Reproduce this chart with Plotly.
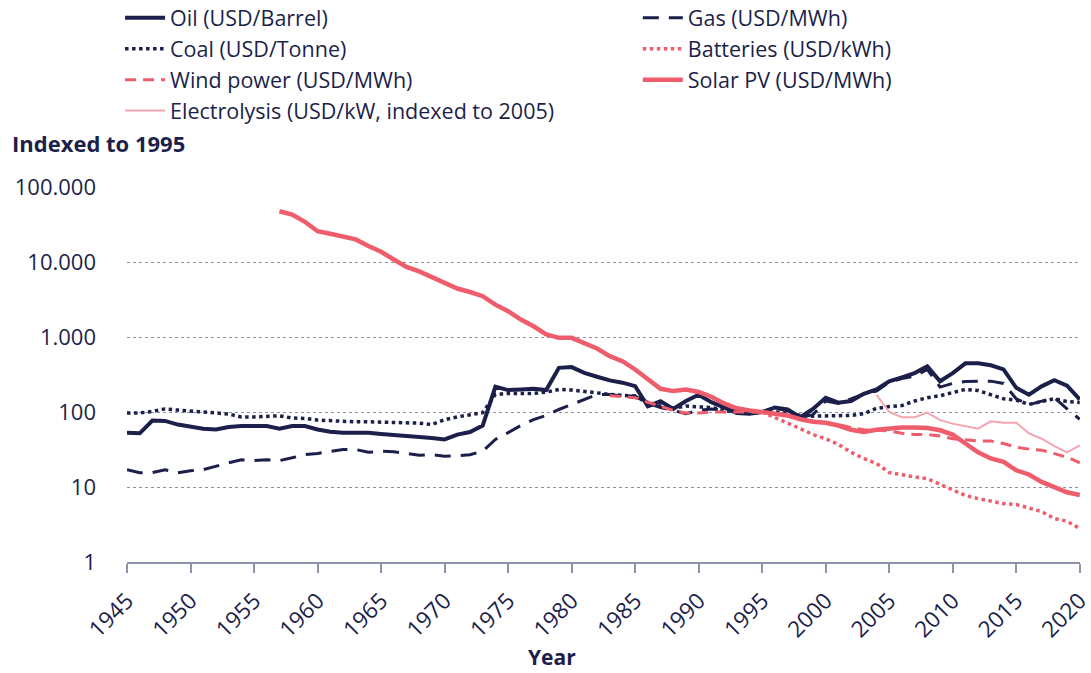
import plotly.graph_objects as go

NAVY = "#1c1f4a"
PINK = "#ef5d6c"
PINK_LIGHT = "#f5a5ad"
GRID = "#8d91aa"
FONT = "Open Sans, sans-serif"

# Data (indexed to 1995 = 100)
years_all = list(range(1945, 2021))

oil = [52.7, 52, 77, 76, 68, 63, 60, 58.5, 63, 65,
       65, 65, 60, 65, 65, 58.5, 54.5, 52.7, 52.7, 52.7,
       51, 49.6, 48.5, 47, 45, 43, 50, 54, 66, 217,
       196, 200, 204, 196, 388, 397, 333, 295, 264, 246,
       221, 119, 139, 110, 140, 170, 135, 115, 97, 95,
       100, 115, 108, 85, 110, 155, 133, 140, 175, 200,
       257, 290, 330, 407, 257, 330, 445, 445, 420, 370,
       210, 170, 220, 265, 225, 147]

coal = [97, 97, 102, 110, 106, 102, 99, 97, 94, 86,
        86, 88, 89, 83, 82, 78, 76, 75, 74, 74,
        73, 73, 72, 71, 68, 79, 86, 92, 98, 171,
        177, 177, 177, 184, 200, 196, 190, 180, 171, 166,
        163, 135, 120, 112, 120, 117, 115, 105, 100, 98,
        100, 100, 97, 90, 88, 88, 90, 90, 95, 112,
        118, 122, 140, 155, 165, 180, 200, 193, 172, 150,
        144, 126, 138, 150, 138, 134]

gas = [17, 15.5, 15.6, 17, 15.5, 16.5, 17, 19, 21, 23,
       22.5, 23, 22.5, 24.5, 27, 28, 30, 31.6, 31.6, 29,
       30, 29.5, 28, 26.5, 27, 25.8, 26, 27, 30, 43,
       53, 66, 79, 90, 108, 126, 147, 171, 171, 163,
       163, 130, 115, 105, 95, 105, 110, 105, 105, 100,
       100, 112, 105, 85, 92, 140, 130, 150, 175, 190,
       250, 280, 300, 370, 215, 240, 255, 258, 258, 240,
       150, 125, 140, 155, 110, 80]

solar_years = list(range(1957, 2021))
solar = [47500, 43000, 34400, 25700, 23800, 22100, 20000, 16300, 13700, 10800,
         8600, 7500, 6340, 5170, 4430, 3980, 3500, 2700, 2210, 1710,
         1390, 1080, 975, 975, 837, 703, 555, 476, 369, 277,
         204, 190, 200, 185, 160, 130, 112, 105, 100, 96,
         90, 80, 74, 72, 66, 58, 54, 58, 61, 62,
         62, 61, 57, 50, 38, 29, 24, 21.6, 16.7, 14.7,
         11.7, 10, 8.5, 7.8]

wind_years = list(range(1983, 2021))
wind = [165, 160, 155, 135, 118, 105, 97, 97, 100, 100,
        100, 100, 100, 96, 88, 80, 76, 72, 68, 62,
        58, 57, 56, 52, 50, 50, 48, 44, 42, 41,
        41, 38, 34, 32, 31, 28, 25, 21]

battery_years = list(range(1995, 2021))
batteries = [100, 85, 72, 60, 50, 44, 37, 29, 24, 20.6,
             15.6, 14.4, 13.6, 12.9, 10.8, 9.1, 7.7, 7, 6.5, 6,
             5.85, 5.3, 4.7, 3.8, 3.5, 2.8]

electro_years = list(range(2004, 2021))
electrolysis = [170, 100, 85, 85, 98, 78, 70, 65, 60, 75,
                72, 72, 52, 44, 35, 29, 36]

y_tickvals = [1, 10, 100, 1000, 10000, 100000]
y_ticktext = ["1", "10", "100", "1.000", "10.000", "100.000"]
x_tickvals = list(range(1945, 2021, 5))

fig = go.Figure()

left = dict(legend="legend")
right = dict(legend="legend2")

fig.add_trace(go.Scatter(x=years_all, y=oil, name="Oil (USD/Barrel)", mode="lines",
                         line=dict(color=NAVY, width=4), **left))
fig.add_trace(go.Scatter(x=years_all, y=gas, name="Gas (USD/MWh)", mode="lines",
                         line=dict(color=NAVY, width=3, dash="16px,10px"), **right))
fig.add_trace(go.Scatter(x=years_all, y=coal, name="Coal (USD/Tonne)", mode="lines",
                         line=dict(color=NAVY, width=3.5, dash="dot"), **left))
fig.add_trace(go.Scatter(x=battery_years, y=batteries, name="Batteries (USD/kWh)", mode="lines",
                         line=dict(color=PINK, width=3.5, dash="dot"), **right))
fig.add_trace(go.Scatter(x=wind_years, y=wind, name="Wind power (USD/MWh)", mode="lines",
                         line=dict(color=PINK, width=3, dash="11px,7px"), **left))
fig.add_trace(go.Scatter(x=solar_years, y=solar, name="Solar PV (USD/MWh)", mode="lines",
                         line=dict(color=PINK, width=4.5), **right))
fig.add_trace(go.Scatter(x=electro_years, y=electrolysis,
                         name="Electrolysis (USD/kW, indexed to 2005)", mode="lines",
                         line=dict(color=PINK_LIGHT, width=2), **left))

legend_style = dict(
    orientation="v", xanchor="left", yanchor="top",
    font=dict(family=FONT, size=21.5, color=NAVY),
    bgcolor="rgba(0,0,0,0)", tracegroupgap=0, itemwidth=40,
)

fig.update_layout(
    width=1091, height=673,
    paper_bgcolor="white", plot_bgcolor="white",
    font=dict(family=FONT, size=21, color=NAVY),
    margin=dict(l=127, r=11, t=187, b=111, autoexpand=False),
    showlegend=True,
    legend=dict(x=-0.0073, y=1.506, **legend_style),
    legend2=dict(x=0.536, y=1.506, **legend_style),
    xaxis=dict(
        range=[1945, 2020.02], tickvals=x_tickvals, tickangle=-45,
        showgrid=False, zeroline=False, automargin=False,
        showline=True, linecolor=GRID, linewidth=1.5,
        ticks="outside", ticklen=9, tickwidth=1.5, tickcolor=GRID,
        ticklabelstandoff=6,
        tickfont=dict(family=FONT, size=22.5, color=NAVY),
        ticklabeloverflow="allow",
    ),
    yaxis=dict(
        type="log", range=[0, 5],
        tickvals=y_tickvals, ticktext=y_ticktext,
        showgrid=True, gridcolor=GRID, gridwidth=1, griddash="dot",
        zeroline=False, showline=False, ticks="", automargin=False,
        ticklabelstandoff=30,
        tickfont=dict(family=FONT, size=22, color=NAVY),
    ),
    annotations=[
        dict(text="<b>Indexed to 1995</b>", xref="paper", yref="paper",
             x=-0.1228, y=1.117, xanchor="left", yanchor="middle", showarrow=False,
             font=dict(family=FONT, size=22, color=NAVY)),
        dict(text="<b>Year</b>", xref="paper", yref="paper",
             x=0.446, y=-0.253, xanchor="center", yanchor="middle", showarrow=False,
             font=dict(family=FONT, size=21, color=NAVY)),
    ],
)

# the page body has a default 8px margin; drop it so the figure fills the window
fig.write_html("out.html", config={"displayModeBar": False},
               post_script="document.body.style.margin='0';")
